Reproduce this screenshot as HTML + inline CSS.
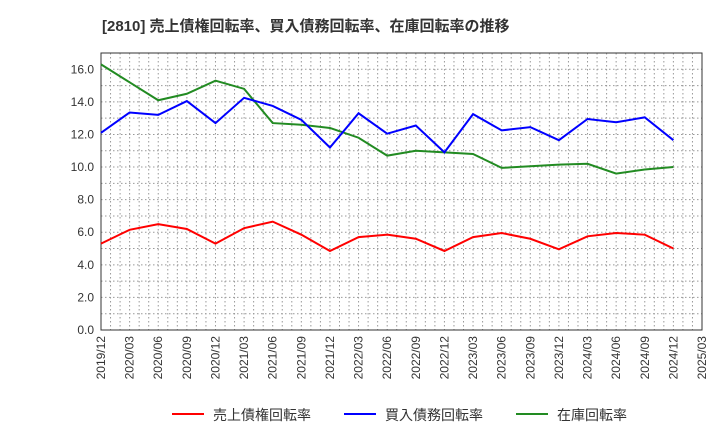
<!DOCTYPE html>
<html><head><meta charset="utf-8"><style>
body{margin:0;background:#fff;font-family:"Liberation Sans","Noto Sans CJK JP",sans-serif}
</style></head><body>
<svg id="c" width="720" height="440" xmlns="http://www.w3.org/2000/svg" font-family="Liberation Sans, Noto Sans CJK JP, sans-serif">
<text x="102" y="31" font-size="15" font-weight="bold" fill="#333">[2810]  売上債権回転率、買入債務回転率、在庫回転率の推移</text>
<g id="grid"></g><g id="axes"></g><g id="series"></g>
<g>
<line x1="172" y1="414" x2="204" y2="414" stroke="#f00" stroke-width="2"/><text x="213" y="420" font-size="14" fill="#333">売上債権回転率</text>
<line x1="344" y1="414" x2="376" y2="414" stroke="#00f" stroke-width="2"/><text x="385" y="420" font-size="14" fill="#333">買入債務回転率</text>
<line x1="516" y1="414" x2="548" y2="414" stroke="#228b22" stroke-width="2"/><text x="557" y="420" font-size="14" fill="#333">在庫回転率</text>
</g>
</svg>
<script>
const categories=["2019/12","2020/03","2020/06","2020/09","2020/12","2021/03","2021/06","2021/09","2021/12","2022/03","2022/06","2022/09","2022/12","2023/03","2023/06","2023/09","2023/12","2024/03","2024/06","2024/09","2024/12","2025/03"];
const receivables=[5.3,6.15,6.5,6.2,5.3,6.25,6.65,5.85,4.85,5.7,5.85,5.6,4.85,5.7,5.95,5.6,4.95,5.75,5.95,5.85,5.0];
const payables=[12.1,13.35,13.2,14.05,12.7,14.25,13.75,12.9,11.2,13.3,12.05,12.55,10.9,13.25,12.25,12.45,11.65,12.95,12.75,13.05,11.65];
const inventory=[16.3,15.2,14.1,14.5,15.3,14.8,12.7,12.6,12.4,11.8,10.7,11.0,10.9,10.8,9.95,10.05,10.15,10.2,9.6,9.85,10.0];
const yTicks=[0,2,4,6,8,10,12,14,16];
const L=101,R=702,T=53,B=330,YMAX=17;
const x=i=>L+(R-L)*i/(categories.length-1);
const y=v=>B-(B-T)*v/YMAX;
const NS="http://www.w3.org/2000/svg";
function mk(p,tag,a){const e=document.createElementNS(NS,tag);for(const k in a)e.setAttribute(k,a[k]);p.appendChild(e);return e;}
const g=document.getElementById('grid'),ax=document.getElementById('axes'),s=document.getElementById('series');
for(let m=1;m<(categories.length-1)*3;m++){const xx=L+(R-L)*m/((categories.length-1)*3);
const l=mk(g,'line',{x1:xx,x2:xx,y1:T,y2:B,stroke:'#999','stroke-dasharray':'1.5,2.5','stroke-width':1});

}
for(let v=1;v<YMAX;v++){const l=mk(g,'line',{x1:L,x2:R,y1:y(v),y2:y(v),stroke:'#999','stroke-dasharray':'1.5,2.5','stroke-width':1});

}
const fr=mk(ax,'rect',{x:L,y:T,width:R-L,height:B-T,fill:'none',stroke:'#333','stroke-width':1});


yTicks.forEach(v=>{const t=mk(ax,'text',{x:L-7,y:y(v)+4,'font-size':12,'text-anchor':'end',fill:'#333'});t.textContent=v.toFixed(1);

});
categories.forEach((c,i)=>{const t=mk(ax,'text',{transform:`translate(${x(i)+4},${B+6}) rotate(-90)`,'font-size':12,'text-anchor':'end',fill:'#333'});t.textContent=c;

});
[[inventory,'#228b22','inventory-line'],[payables,'#00f','payables-line'],[receivables,'#f00','receivables-line']].forEach(([d,c,n])=>{
const p=mk(s,'polyline',{points:d.map((v,i)=>x(i)+','+y(v)).join(' '),fill:'none',stroke:c,'stroke-width':2});

});
</script>
</body></html>
